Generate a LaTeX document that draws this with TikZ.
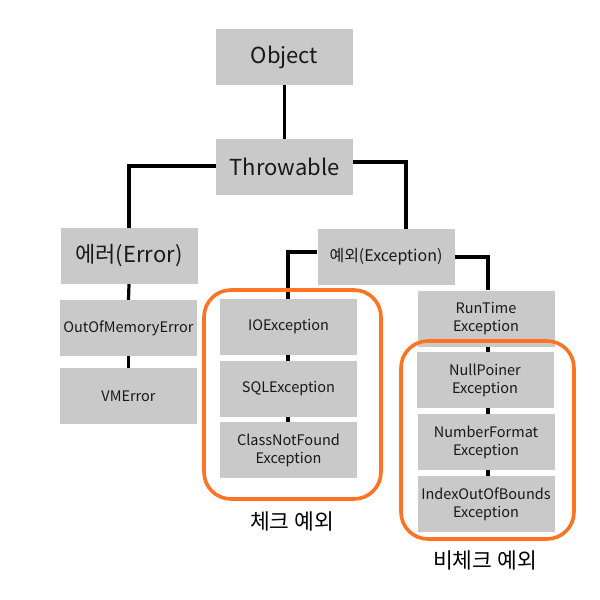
\documentclass[tikz,border=0pt]{standalone}
\usepackage{fontspec}
\setmainfont{Noto Sans CJK KR}
\definecolor{boxgray}{RGB}{201,201,201}
\definecolor{grporange}{RGB}{252,116,36}
\begin{document}
\begin{tikzpicture}[x=1pt,y=-1pt,
  cls/.style={fill=boxgray, draw=none, minimum width=137pt, minimum height=56pt, inner sep=0pt, align=center, text=black!90},
  big/.style={cls, font=\fontsize{22}{26}\selectfont},
  mid/.style={cls, font=\fontsize{16}{19}\selectfont},
  small/.style={cls, font=\fontsize{14.5}{18}\selectfont},
  link/.style={draw=black, line width=3.2pt},
  grp/.style={draw=grporange, line width=3.6pt, rounded corners=27pt},
  grplabel/.style={font=\fontsize{21.5}{25}\selectfont, inner sep=0pt}]
\useasboundingbox (0,0) rectangle (600,600);
\fill[white] (0,0) rectangle (600,600);
% connector bends
\coordinate (tl) at (129,166);
\coordinate (tr) at (406,162);
\coordinate (el) at (288,252);
\coordinate (er) at (488,257);
\node[big] (obj) at (284.5,57) {Object};
\node[big] (thr) at (284.5,167) {Throwable};
\node[big] (err) at (129,256) {에러(Error)};
\node[mid] (exc) at (386,257) {예외(Exception)};
\node[small] (oom) at (128.5,328) {OutOfMemoryError};
\node[small] (vm) at (128.5,396) {VMError};
\node[small] (io) at (288.5,327) {IOException};
\node[small] (sql) at (288.5,389) {SQLException};
\node[small] (cnf) at (288.5,450) {ClassNotFound\\Exception};
\node[small] (rt) at (486,318.5) {RunTime\\Exception};
\node[small] (np) at (485,380) {NullPoiner\\Exception};
\node[small] (nf) at (486,442) {NumberFormat\\Exception};
\node[small] (ioob) at (486,504) {IndexOutOfBounds\\Exception};
\draw[link] (obj.south) -- (thr.north);
\draw[link] (thr.west |- tl) -- (tl) -- (err.north -| tl);
\draw[link] (thr.east |- tr) -- (tr) -- (exc.north -| tr);
\draw[link] (exc.west |- el) -- (el) -- (io.north -| el);
\draw[link] (exc.east |- er) -- (er) -- (rt.north -| er);
\draw[link] (err.south) -- (oom.north);
\draw[link] (oom.south) -- (vm.north);
\draw[link] (io.south -| el) -- (sql.north -| el);
\draw[link] (sql.south -| el) -- (cnf.north -| el);
\draw[link] (rt.south -| er) -- (np.north -| er);
\draw[link] (np.south -| er) -- (nf.north -| er);
\draw[link] (nf.south -| er) -- (ioob.north -| er);
% groups
\draw[grp] (204,290) rectangle (381,499);
\draw[grp] (401,341) rectangle (574,539);
\node[grplabel] (chk) at (292,521) {체크 예외};
\node[grplabel] (unchk) at (485,560) {비체크 예외};
\end{tikzpicture}
\end{document}
